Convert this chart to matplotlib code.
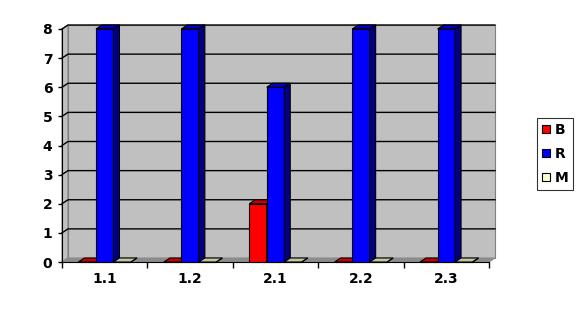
import numpy as np
import matplotlib.pyplot as plt
from matplotlib.patches import Polygon, Patch
from matplotlib.colors import to_rgb

# data
categories = ['1.1', '1.2', '2.1', '2.2', '2.3']
series_names = ['B', 'R', 'M']
b_values = [0, 0, 2, 0, 0]
r_values = [8, 8, 6, 8, 8]
m_values = [0, 0, 0, 0, 0]
series_values = [b_values, r_values, m_values]
series_colors = ['#FF0000', '#0000FF', '#FFFFCC']
y_ticks = [0, 1, 2, 3, 4, 5, 6, 7, 8]

W, H = 586, 311
fig = plt.figure(figsize=(W / 100, H / 100), dpi=100)
fig.patch.set_facecolor('white')

# front plane of the plot in pixels
left_px, right_px, bot_px, top_px = 62, 489, 262, 29
ax = fig.add_axes([left_px / W, (H - bot_px) / H,
                   (right_px - left_px) / W, (bot_px - top_px) / H])
n = len(categories)
x0, x1 = -0.5, n - 0.5
ymax = 8
ax.set_xlim(x0, x1)
ax.set_ylim(0, ymax)
ax.set_facecolor('none')

# depth offset (pixels -> data)
depth_px = (6, 4)
dx = depth_px[0] * (x1 - x0) / (right_px - left_px)
dy = depth_px[1] * ymax / (bot_px - top_px)


def shade(c, f):
    r, g, b = to_rgb(c)
    return (r * f, g * f, b * f)


def poly(pts, fc, ec='black', lw=0.8, z=1):
    ax.add_patch(Polygon(pts, closed=True, facecolor=fc, edgecolor=ec,
                         linewidth=lw, zorder=z, clip_on=False))


# walls and floor
poly([(x0 + dx, dy), (x1 + dx, dy), (x1 + dx, ymax + dy), (x0 + dx, ymax + dy)],
     '#C0C0C0', ec='#808080', z=0)
poly([(x0, 0), (x0 + dx, dy), (x0 + dx, ymax + dy), (x0, ymax)],
     '#C0C0C0', ec='#808080', z=0)
poly([(x0, 0), (x1, 0), (x1 + dx, dy), (x0 + dx, dy)], '#8C8C8C', ec='#8C8C8C', z=0.5)

for t in y_ticks[1:]:
    ax.plot([x0, x0 + dx, x1 + dx], [t, t + dy, t + dy], color='black',
            lw=1.0, zorder=0.6, clip_on=False)

# bars
n_series = len(series_names)
bw = 0.205
for i in range(n):
    for s in range(n_series):
        v = series_values[s][i]
        c = series_colors[s]
        xl = i - n_series * bw / 2 + s * bw
        xr = xl + bw
        poly([(xl, 0), (xr, 0), (xr, v), (xl, v)], c, z=2)
        poly([(xl, v), (xr, v), (xr + dx, v + dy), (xl + dx, v + dy)], shade(c, 0.78), z=2)
        poly([(xr, 0), (xr + dx, dy), (xr + dx, v + dy), (xr, v)], shade(c, 0.5), z=2)

# axes
for sp in ['top', 'right']:
    ax.spines[sp].set_visible(False)
ax.spines['left'].set_color('black')
ax.spines['bottom'].set_color('black')
ax.spines['left'].set_zorder(3)
ax.spines['bottom'].set_zorder(3)
ax.set_yticks(y_ticks)
ax.set_yticklabels([str(t) for t in y_ticks], fontsize=10, fontweight='bold')
ax.tick_params(axis='y', length=3, pad=4, width=1)
ax.set_xticks(np.arange(n + 1) - 0.5)
ax.set_xticklabels([])
ax.tick_params(axis='x', length=4, width=1)
for i, lab in enumerate(categories):
    ax.annotate(lab, xy=(i, 0), xytext=(0, -12.5), textcoords='offset points',
                ha='center', va='center', fontsize=10, fontweight='bold')

handles = [Patch(facecolor=c, edgecolor='black', linewidth=0.8) for c in series_colors]
leg = fig.legend(handles, series_names, loc='upper left',
                 bbox_to_anchor=(537 / W, 1 - 118 / H),
                 prop={'weight': 'bold', 'size': 10},
                 frameon=True, fancybox=False, handlelength=0.6, handleheight=0.6,
                 handletextpad=0.3, borderpad=0.35, labelspacing=0.72,
                 borderaxespad=0)
leg.get_frame().set_edgecolor('black')
leg.get_frame().set_linewidth(0.8)

fig.savefig('out.png', dpi=100)
